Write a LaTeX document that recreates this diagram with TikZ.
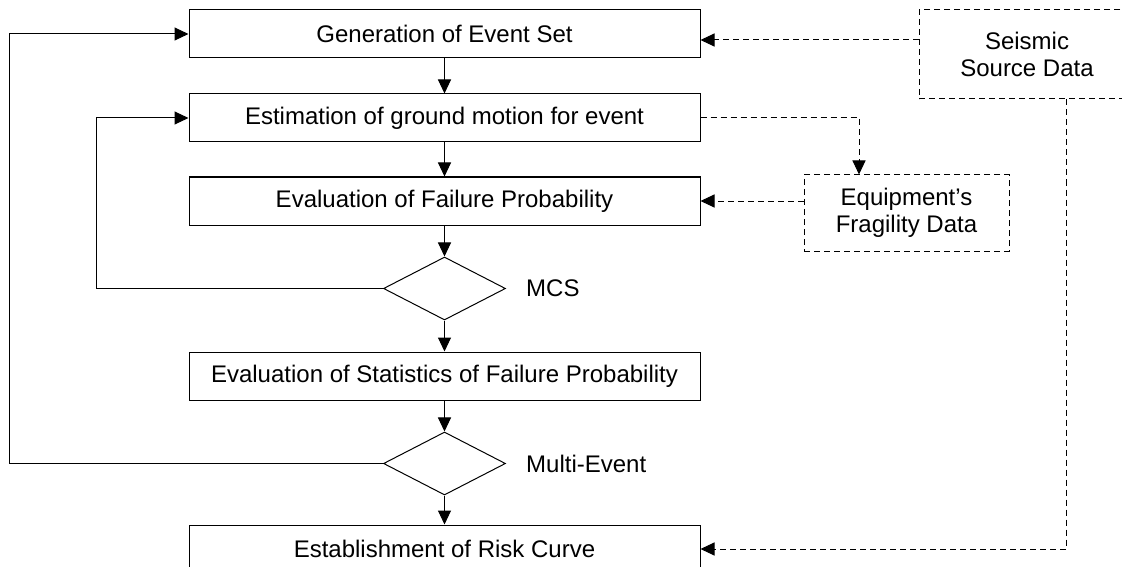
\documentclass[tikz,border=0pt]{standalone}
\usepackage{fontspec}
\setmainfont{Liberation Sans}
\usetikzlibrary{positioning, shapes.geometric, arrows.meta}

\begin{document}
\begin{tikzpicture}[
        x=1pt, y=1pt,
        node distance=33pt and 20pt,
        every node/.style={font=\fontsize{24}{27}\selectfont},
        proc/.style={draw, line width=1pt, minimum width=511pt, minimum height=48pt, inner sep=0pt, align=center},
        decision/.style={draw, diamond, line width=1pt, minimum width=122pt, minimum height=63pt, inner sep=0pt},
        datain/.style={draw, line width=1pt, dash pattern=on 6pt off 4pt, inner sep=0pt, align=center},
        tag/.style={inner sep=0pt},
        arrow/.style={-{Triangle[length=14pt,width=13pt]}, line width=1pt},
        dasharrow/.style={arrow, dash pattern=on 6pt off 4pt}
    ]
    \useasboundingbox (0,0) rectangle (1122,-567);

    % Nodes -----------------------------------------------
    \node[proc] (gen) at (444.5,-34) {Generation of Event Set};
    \node[proc, below=35pt of gen] (est) {Estimation of ground motion for event};
    \node[proc, below=34pt of est] (fail) {Evaluation of Failure Probability};
    \node[decision, below=31pt of fail] (mcs) {};
    \node[tag, right=20pt of mcs] (mcslbl) {MCS};
    \node[proc, below=31pt of mcs] (stat) {Evaluation of Statistics of Failure Probability};
    \node[decision, below=31pt of stat] (multi) {};
    \node[tag, right=20pt of multi] (multilbl) {Multi-Event};
    \node[proc, below=29pt of multi] (risk) {Establishment of Risk Curve};
    \node[datain, minimum width=216pt, minimum height=89pt] (seis) at (1027,-54.5) {Seismic\\Source Data};
    \node[datain, minimum width=205pt, minimum height=76pt] (frag) at (906.5,-213) {Equipment’s\\Fragility Data};

    % main flow
    \draw[arrow] (gen) -- (est);
    \draw[arrow] (est) -- (fail);
    \draw[arrow] (fail) -- (mcs);
    \draw[arrow] (mcs) -- (stat);
    \draw[arrow] (stat) -- (multi);
    \draw[arrow] (multi) -- (risk);

    % loops back
    \draw[arrow] (mcs.west) -- ++(-287,0) |- (est.west);
    \draw[arrow] (multi.west) -- ++(-374,0) |- (gen.west);

    % data inputs
    \coordinate (seisin) at ([yshift=-6pt]gen.east);
    \draw[dasharrow] (seisin -| seis.west) -- (seisin);
    \draw[dasharrow] (est.east) -| ([xshift=-47.5pt]frag.north);
    \draw[dasharrow] (fail.east -| frag.west) -- (fail.east);
    \draw[dasharrow] ([xshift=39pt]seis.south) |- (risk.east);
\end{tikzpicture}
\end{document}
